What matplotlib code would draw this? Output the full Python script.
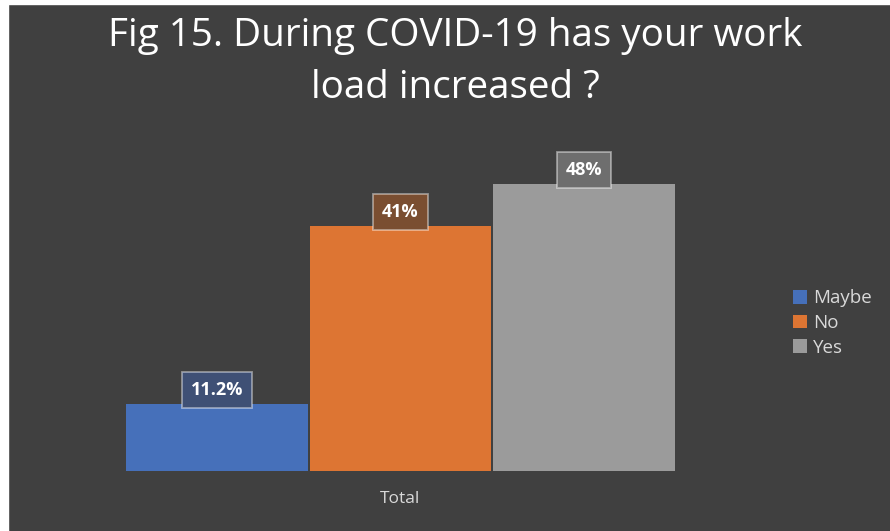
import matplotlib
matplotlib.use("Agg")
import matplotlib.pyplot as plt
from matplotlib.patches import Rectangle

categories = ["Maybe", "No", "Yes"]
values = [11.2, 41, 48]
labels = ["11.2%", "41%", "48%"]
bar_colors = ["#4670BA", "#DD7533", "#9B9B9B"]
box_colors = ["#3F5075", "#7A4E31", "#6E6E6E"]
xlabel = "Total"
title = "Fig 15. During COVID-19 has your work\nload increased ?"

BG = "#404040"
W, H = 890, 531
fig = plt.figure(figsize=(W / 100, H / 100), dpi=100)
fig.patch.set_facecolor(BG)
# white strip at left/top edges
fig.add_artist(Rectangle((0, 0), 8 / W, 1, transform=fig.transFigure, color="white", zorder=10))
fig.add_artist(Rectangle((0, 1 - 4 / H), 1, 4 / H, transform=fig.transFigure, color="white", zorder=10))

ax = fig.add_axes([125 / W, (H - 471) / H, 551 / W, 295 / H])
ax.set_facecolor(BG)
x = list(range(len(values)))
bars = ax.bar(x, values, width=0.99, color=bar_colors, label=categories)
ax.set_xlim(-0.5, 2.5)
ax.set_ylim(0, 49.3)
for s in ax.spines.values():
    s.set_visible(False)
ax.set_xticks([])
ax.set_yticks([])

for xi, v, lab, bc in zip(x, values, labels, box_colors):
    ax.annotate(lab, (xi, v), xytext=(0, 10), textcoords="offset points",
                ha="center", va="center", fontsize=13, fontweight="bold",
                color="white", family=["Open Sans", "DejaVu Sans"],
                bbox=dict(boxstyle="square,pad=0.5", fc=bc,
                          ec=(1, 1, 1, 0.45), lw=1.3))

fig.text(400 / W, 1 - 499 / H, xlabel, ha="center", va="center", fontsize=12.5,
         color="#D9D9D9", family=["Open Sans", "DejaVu Sans"])

fig.text(455 / W, 1 - 62 / H, title, ha="center", va="center", fontsize=27.8,
         color="white", family=["Open Sans", "DejaVu Sans"], linespacing=1.5)

leg = ax.legend(handles=bars, labels=categories, loc="center left",
                bbox_to_anchor=(793 / W, 1 - 323 / H), bbox_transform=fig.transFigure,
                frameon=False, handlelength=0.75, handleheight=0.75,
                handletextpad=0.3, labelspacing=0.35, borderaxespad=0, borderpad=0,
                prop={"family": "Open Sans", "size": 13.5})
for t in leg.get_texts():
    t.set_color("#D9D9D9")

fig.savefig("out.png", dpi=100, facecolor=BG)
